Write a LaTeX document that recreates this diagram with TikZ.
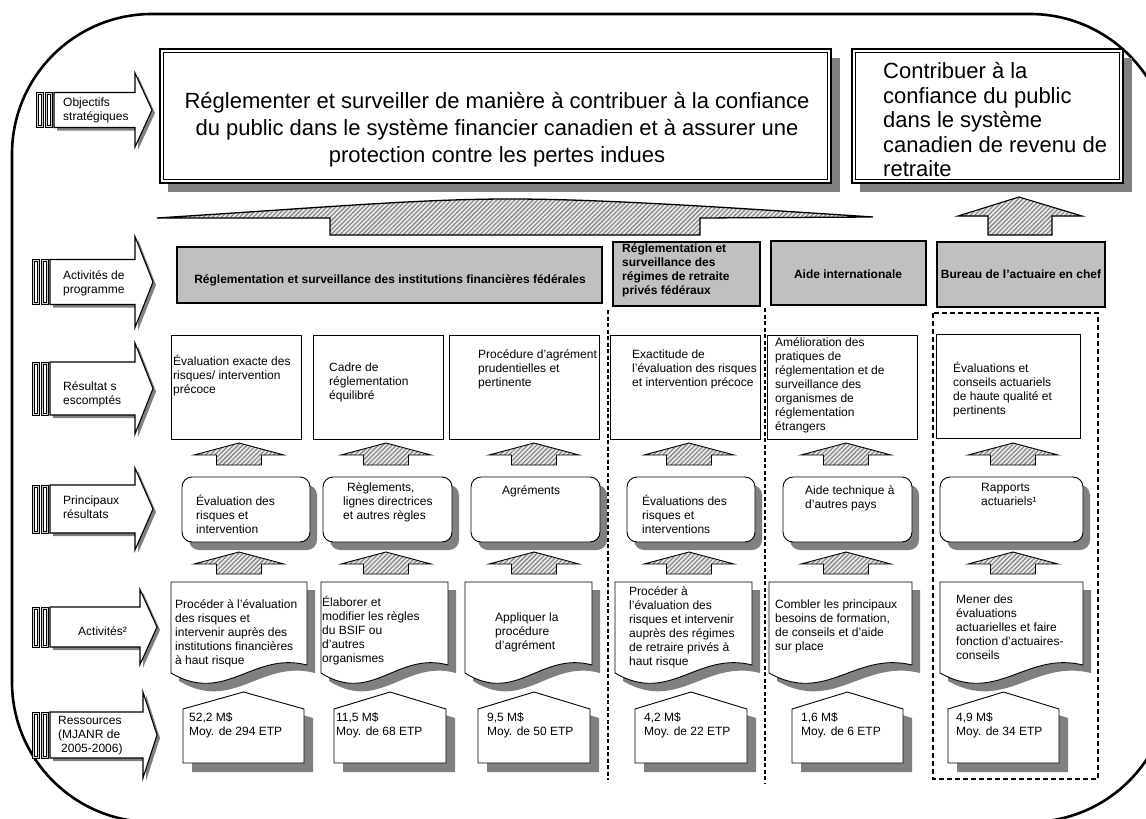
\documentclass[tikz,border=0pt]{standalone}
\usepackage{fontspec}
\setmainfont{Liberation Sans}
\usetikzlibrary{patterns.meta}
\definecolor{shd}{HTML}{808080}
\definecolor{pa}{HTML}{C0C0C0}
\definecolor{hbg}{HTML}{E8E8E8}
\definecolor{barin}{HTML}{D0D0D0}
\tikzset{
  txt/.style={font=\fontsize{12}{14}\selectfont, align=left, inner sep=0pt, anchor=north west, yshift=-2.5pt, execute at begin node=\strut},
  btxt/.style={font=\bfseries\fontsize{12}{14}\selectfont, inner sep=0pt},
  hatch/.style={draw=black, line width=0.9pt, preaction={fill=hbg}, pattern={Lines[angle=45,distance=3.2pt,line width=1.1pt]}, pattern color=shd},
  thinbox/.style={draw=black, line width=0.9pt, fill=white},
  pabox/.style={draw=black, line width=1.6pt, fill=pa},
  dsh/.style={dash pattern=on 4pt off 2.5pt, line width=1.3pt},
}
\newcommand\uparr[2]{%
  \path[hatch] (#1,#2) -- (#1+45,#2+12) -- (#1+22.5,#2+12) -- (#1+22.5,#2+22) -- (#1-22.5,#2+22) -- (#1-22.5,#2+12) -- (#1-45,#2+12) -- cycle;}
\newcommand\onebar[3]{% x, ytop, ybot
  \draw[line width=0.9pt, fill=barin] (#1,#2) rectangle (#1+7,#3);
  \draw[line width=0.5pt, fill=white] (#1+2,#2+2) rectangle (#1+5,#3-2);}
\newcommand\lblarr[6]{% x0, yc, bh, hh, neck, tip
  \fill[shd, shift={(3,3)}] (#1+18,#2-#3) -- (#5,#2-#3) -- (#5,#2-#4) -- (#6,#2) -- (#5,#2+#4) -- (#5,#2+#3) -- (#1+18,#2+#3) -- cycle;
  \draw[fill=white, line width=1.1pt] (#1+18,#2-#3) -- (#5,#2-#3) -- (#5,#2-#4) -- (#6,#2) -- (#5,#2+#4) -- (#5,#2+#3) -- (#1+18,#2+#3) -- cycle;
  \onebar{#1}{#2-#3}{#2+#3}
  \onebar{#1+9}{#2-#3}{#2+#3}}
\newcommand\koutbox[2]{%
  \fill[shd, rounded corners=10pt] (#1+7,485) rectangle (#2+7,550);
  \draw[thinbox, rounded corners=10pt] (#1,477) rectangle (#2,542);}
\newcommand\actbox[2]{%
  \fill[shd, shift={(8,8)}] (#1,582) -- (#2,582) -- (#2,665) .. controls ({#1+0.6*(#2-#1)},651) and ({#1+0.4*(#2-#1)},705) .. (#1,673) -- cycle;
  \draw[thinbox] (#1,582) -- (#2,582) -- (#2,665) .. controls ({#1+0.6*(#2-#1)},651) and ({#1+0.4*(#2-#1)},705) .. (#1,673) -- cycle;}
\newcommand\resbox[2]{%
  \fill[shd, shift={(9,9)}] (#1,709) -- ({(#1+#2)/2},692) -- (#2,709) -- (#2,763) -- (#1,763) -- cycle;
  \draw[thinbox] (#1,709) -- ({(#1+#2)/2},692) -- (#2,709) -- (#2,763) -- (#1,763) -- cycle;}
\begin{document}
\begin{tikzpicture}[x=1pt,y=-1pt]
\useasboundingbox (0,0) rectangle (1146,819);
\clip (0,0) rectangle (1146,819);
\fill[white] (0,0) rectangle (1146,819);
% outer border
\draw[line width=2.6pt, rounded corners=140pt] (12,14) -- (1170,14) -- (1170,822) -- (12,822) -- cycle;

% left label arrows
\lblarr{36}{110}{17.5}{37}{135}{152}
\lblarr{32}{282}{22.5}{45.5}{135}{153}
\lblarr{32}{388.5}{26.5}{45.5}{135}{153}
\lblarr{32}{509}{24}{41}{135}{153}
\lblarr{32}{627}{20}{37.5}{140}{157}
\lblarr{32}{735}{23}{43}{143}{157}
\node[txt] (l1) at (63,95.3) {Objectifs\\stratégiques};
\node[txt] (l2) at (63,268.3) {Activités de\\programme};
\node[txt] (l3) at (63,379.3) {Résultat s\\escomptés};
\node[txt] (l4) at (63,493.3) {Principaux\\résultats};
\node[txt] (l5) at (78,623.3) {Activités²};
\node[txt] (l6) at (58,713.3) {Ressources\\(MJANR de\\\hspace{3pt}2005-2006)};

% strategic objectives
\fill[shd] (168,58) rectangle (840,192);
\draw[line width=1.2pt, fill=white] (160,49) rectangle (831,183);
\draw[line width=0.7pt] (163.5,52.5) rectangle (827.5,179.5);
\fill[shd] (860,58) rectangle (1132,192);
\draw[line width=1.2pt, fill=white] (852,49) rectangle (1123,183);
\draw[line width=0.7pt] (855.5,52.5) rectangle (1119.5,179.5);
\node[font=\fontsize{22}{27}\selectfont, align=center, inner sep=0pt, anchor=north, execute at begin node=\strut] (o1) at (497,92)
  {Réglementer et surveiller de manière à contribuer à la confiance\\du public dans le système financier canadien et à assurer une\\protection contre les pertes indues};
\node[font=\fontsize{22}{24.5}\selectfont, align=left, inner sep=0pt, anchor=north west, execute at begin node=\strut] (o2) at (883,62.5)
  {Contribuer à la\\confiance du public\\dans le système\\canadien de revenu de\\retraite};

% hatched arrows to objectives
\path[hatch, line width=1.3pt] (157,218) .. controls (330,207) and (420,199) .. (510,199) .. controls (600,199) and (720,207) .. (873,217) -- (700,218) -- (700,235) -- (330,235) -- (330,218) -- cycle;
\path[hatch, line width=1.1pt] (1019,197) -- (1082,216) -- (1052,216) -- (1052,235) -- (988,235) -- (988,216) -- (958,216) -- cycle;

% program activities
\draw[pabox] (177,247) rectangle (602,303);
\draw[pabox, line width=2pt] (613,242) rectangle (760,306);
\draw[pabox] (771,241) rectangle (926,305);
\draw[pabox, line width=2.5pt] (937,242) rectangle (1105,307);
\node[btxt, anchor=base] (pa1) at (390,283) {Réglementation et surveillance des institutions financières fédérales};
\node[btxt, align=left, anchor=north west, yshift=-2.5pt, execute at begin node=\strut] (pa2) at (622,241.2) {Réglementation et\\surveillance des\\régimes de retraite\\privés fédéraux};
\node[btxt, anchor=base] (pa3) at (848,278) {Aide internationale};
\node[btxt, anchor=base] (pa4) at (1021,278) {Bureau de l'actuaire en chef};

% dashed separators
\draw[dsh] (608,310) -- (608,780);
\draw[dsh] (765,308) -- (765,784);
\draw[dsh, line width=1.5pt, dash pattern=on 5pt off 3pt] (933,313) rectangle (1098,779);

% expected results
\draw[thinbox] (171,335) rectangle (301,439);
\draw[thinbox] (313,335) rectangle (443,439);
\draw[thinbox] (449,335) rectangle (599,439);
\draw[thinbox] (610,335) rectangle (760,439);
\draw[thinbox] (767,335) rectangle (917,439);
\draw[thinbox] (936,334) rectangle (1080,438);
\node[txt] (r1) at (173,352.3) {Évaluation exacte des\\risques/ intervention\\précoce};
\node[txt] (r2) at (329,360.3) {Cadre de\\réglementation\\équilibré};
\node[txt] (r3) at (478,347.3) {Procédure d'agrément\\prudentielles et\\pertinente};
\node[txt] (r4) at (632,347.3) {Exactitude de\\l'évaluation des risques\\et intervention précoce};
\node[txt] (r5) at (775,335.3) {Amélioration des\\pratiques de\\réglementation et de\\surveillance des\\organismes de\\réglementation\\étrangers};
\node[txt] (r6) at (953,359.3) {Évaluations et\\conseils actuariels\\de haute qualité et\\pertinents};

% arrows row A
\uparr{239}{443}\uparr{386}{443}\uparr{534}{443}\uparr{689}{443}\uparr{846}{443}\uparr{1013}{443}

% key outputs
\koutbox{182}{310}\koutbox{323}{452}\koutbox{471}{600}\koutbox{627}{755}\koutbox{783}{912}\koutbox{940}{1083}
\node[txt] (k1) at (196,492.3) {Évaluation des\\risques et\\intervention};
\node[txt] (k2) at (343,480.3) {\hspace{4pt}Règlements,\\lignes directrices\\et autres règles};
\node[txt] (k3) at (502,482.3) {Agréments};
\node[txt] (k4) at (642,492.3) {Évaluations des\\risques et\\interventions};
\node[txt] (k5) at (805,483.3) {Aide technique à\\d'autres pays};
\node[txt] (k6) at (981,480.3) {Rapports\\actuariels¹};

% arrows row B
\uparr{239}{552}\uparr{386}{552}\uparr{534}{552}\uparr{689}{552}\uparr{846}{552}\uparr{1013}{552}

% activities
\actbox{171}{307}\actbox{321}{448}\actbox{465}{592}\actbox{615}{752}\actbox{769}{912}\actbox{940}{1083}
\node[txt] (a1) at (175,597.3) {Procéder à l'évaluation\\des risques et\\intervenir auprès des\\institutions financières\\à haut risque};
\node[txt] (a2) at (322,593.3) {Élaborer et\\modifier les règles\\du BSIF ou\\d'autres\\organismes};
\node[txt] (a3) at (495,610.3) {Appliquer la\\procédure\\d'agrément};
\node[txt] (a4) at (629,584.3) {Procéder à\\l'évaluation des\\risques et intervenir\\auprès des régimes\\de retraire privés à\\haut risque};
\node[txt] (a5) at (775,597.3) {Combler les principaux\\besoins de formation,\\de conseils et d'aide\\sur place};
\node[txt] (a6) at (956,592.3) {Mener des\\évaluations\\actuarielles et faire\\fonction d'actuaires-\\conseils};

% resources
\resbox{183}{304}\resbox{334}{446}\resbox{478}{590}\resbox{635}{747}\resbox{792}{903}\resbox{948}{1059}
\node[txt] (s1) at (189,710.3) {52,2 M\$\\Moy. de 294 ETP};
\node[txt] (s2) at (336,710.3) {11,5 M\$\\Moy. de 68 ETP};
\node[txt] (s3) at (487,710.3) {9,5 M\$\\Moy. de 50 ETP};
\node[txt] (s4) at (644,710.3) {4,2 M\$\\Moy. de 22 ETP};
\node[txt] (s5) at (801,710.3) {1,6 M\$\\Moy. de 6 ETP};
\node[txt] (s6) at (956,710.3) {4,9 M\$\\Moy. de 34 ETP};
\end{tikzpicture}
\end{document}
